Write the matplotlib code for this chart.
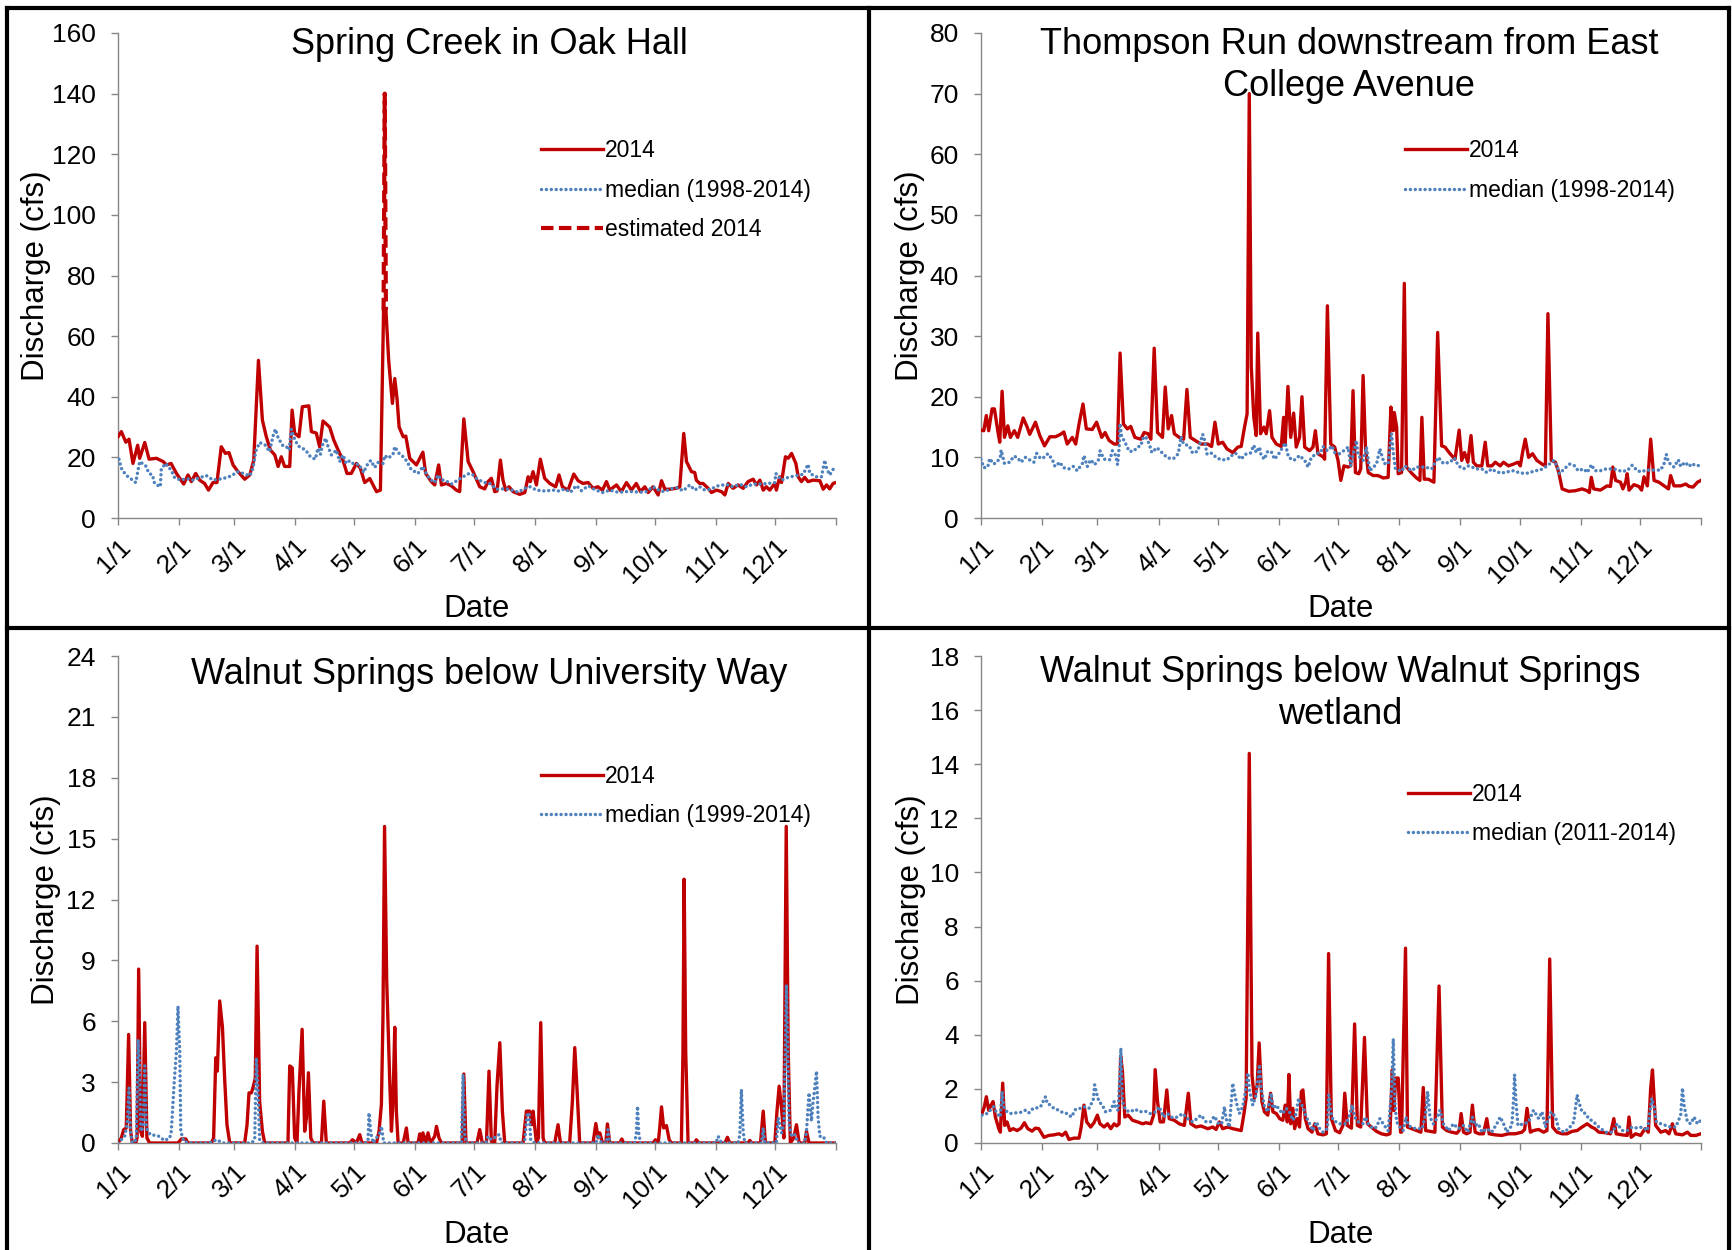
import numpy as np
import matplotlib
matplotlib.use("Agg")
import matplotlib.pyplot as plt
from matplotlib.lines import Line2D

plt.rcParams['font.family'] = ['Liberation Sans', 'DejaVu Sans']

# ---------------------------- DATA ----------------------------------------#
# day of year (0 = 1/1) and discharge in cfs

monthTicks = [0, 31, 59, 90, 120, 151, 181, 212, 243, 273, 304, 334, 365]
monthLabels = ['1/1', '2/1', '3/1', '4/1', '5/1', '6/1', '7/1', '8/1', '9/1', '10/1', '11/1', '12/1', '']

titles = ['Spring Creek in Oak Hall',
          'Thompson Run downstream from East\nCollege Avenue',
          'Walnut Springs below University Way',
          'Walnut Springs below Walnut Springs\nwetland']
medianLabels = ['median (1998-2014)', 'median (1998-2014)', 'median (1999-2014)', 'median (2011-2014)']
yMax = [160, 80, 24, 18]
yStep = [20, 10, 3, 2]

# Spring Creek in Oak Hall
springCreek2014 = [(0, 26.8), (1.7, 28.5), (4, 25), (5.6, 26), (7.6, 18), (10, 24), (11, 19.7), (13.6, 24.9),
    (15.8, 19.4), (19.5, 19.7), (23, 18.6), (24.6, 17.5), (27, 18), (29.7, 14.7), (33.4, 11.2), (35.6, 14.2),
    (37.3, 12), (39.5, 14.7), (41.5, 12.5), (44, 11.4), (46, 9.2), (48.3, 11.7), (50.3, 11.7), (52.5, 23.5),
    (54.6, 21.3), (56.4, 21.6), (58.5, 17.5), (61, 15.3), (64.4, 12.8), (67, 14.2), (69, 19), (71.4, 52),
    (73.4, 32.3), (75.4, 26.8), (77.5, 22.4), (79.7, 20.8), (81.4, 17), (83, 20.2), (84.7, 17), (87.3, 17),
    (88.5, 35.6), (89.8, 28), (92, 26.8), (93.7, 36.7), (97, 37), (98.3, 28.5), (100.8, 28), (102.5, 23.5),
    (104.2, 32), (107.6, 30), (109.7, 25.7), (111.9, 22.4), (114.4, 19), (116.4, 14.7), (118.6, 14.7),
    (121.2, 18), (123.2, 16.4), (125.4, 11.7), (128, 13), (131.4, 8.7), (133.4, 9.2), (135, 68.5),
    (136.2, 68.5), (137.6, 52), (139.5, 37.8), (140.7, 46), (141.9, 39), (142.9, 30), (145, 26.8),
    (146.3, 27), (148.3, 19.7), (151.7, 17.5), (155, 21.7), (156.4, 14.7), (159.3, 12), (161, 10.9),
    (163, 17.5), (164.4, 10.9), (167, 11.4), (169.5, 10.6), (172, 9.2), (173.7, 8.7), (175.8, 32.7),
    (178, 18.6), (180.5, 15.3), (183.9, 10.3), (186.4, 9.6), (188.1, 12), (189.8, 13.1), (191.5, 8.7),
    (192.7, 8.9), (194.4, 19.1), (195.7, 12.5), (197.1, 9.2), (198.8, 10.3), (200.8, 8.7), (204.2, 7.8),
    (206.8, 8.4), (208.5, 13.6), (209.6, 12), (211, 15.3), (212.7, 10.9), (214.7, 19.4), (216.9, 13.1),
    (219.5, 11.4), (222.5, 10.3), (224.2, 14.2), (225.9, 10.3), (228.8, 9.2), (231.7, 14.5), (233.9, 12.3),
    (236.4, 11.4), (239, 11.7), (241.5, 9.8), (244, 10.3), (246.3, 9.2), (248.3, 12), (250, 9.2),
    (253.4, 10.9), (255.9, 8.7), (258.5, 11.7), (261, 9.2), (263.5, 11.4), (265.6, 8.7), (267.8, 10.3),
    (269.5, 8.4), (272, 10.3), (274.6, 7.6), (276.3, 12.3), (278, 9.5), (280.5, 9.5), (283.9, 9.8),
    (285.6, 10.3), (287.6, 27.9), (289, 18.6), (291.5, 15.3), (293.2, 15), (294, 12.5), (295.7, 11.4),
    (297.4, 11.4), (300, 9.8), (301.7, 8.4), (304.2, 9.2), (306.8, 8.7), (308.5, 7.6), (310.2, 11.4),
    (312.7, 9.8), (315.2, 10.9), (317.8, 9.8), (320.3, 12), (322.9, 12.8), (324.6, 10.9), (326.3, 12.5),
    (328, 9.2), (329.6, 10.3), (331.3, 9.2), (333.9, 11.4), (334.7, 9.2), (336.4, 13.6), (337.3, 11.7),
    (339.3, 20.2), (340.7, 19.7), (342.4, 21.3), (344.6, 18), (345.8, 13.6), (347.4, 12), (349.1, 13.4),
    (350.8, 12), (353.4, 12.5), (356.8, 12.3), (358.5, 9.5), (360.2, 10.9), (361.8, 9.6), (363.5, 11.4),
    (365, 11.7)]
springCreekEstimated = [(135, 68.5), (135.6, 140), (136.2, 68.5)]
springCreekMedian = [(0.5, 19.4), (1.7, 16.4), (4, 14.2), (6.8, 12.8), (9, 11.7), (9.8, 14.4), (11, 18.6),
    (14, 17.3), (15.8, 14.7), (17.5, 14.2), (18.6, 11.4), (21.5, 10.3), (22, 16.2), (24.2, 18), (27, 15.8),
    (28.8, 13.3), (31.9, 12.5), (35, 13), (38, 12.5), (41.5, 13.3), (44.9, 14), (48.3, 12.5), (52.2, 12.9),
    (55, 13.3), (58, 14), (60.7, 15.3), (63.6, 14.7), (67, 13.9), (68.6, 16.4), (70, 22), (72, 24.9),
    (75, 24), (77, 21.9), (78.8, 27), (80, 29.3), (81.4, 26.5), (83.6, 24), (85.3, 23.8), (87, 22.4),
    (88.1, 29.3), (89.3, 26.8), (91.5, 23.8), (95.4, 22.4), (97.8, 20.2), (100.3, 19.4), (101.7, 23),
    (102.9, 21), (103.9, 24), (105.6, 26.3), (106.8, 23.5), (108.5, 20.8), (111, 22.4), (112.7, 18.6),
    (114.4, 20.8), (116, 18), (117.8, 18.9), (120, 17.7), (122.5, 17.7), (124.9, 15), (126.3, 17.2),
    (128.5, 19), (130.5, 16.7), (132.2, 18.3), (134.7, 18), (135.6, 20.6), (137.3, 19.7), (139.8, 21),
    (140.7, 23.5), (142.9, 21.3), (145, 20.2), (147, 18.6), (149, 16), (152.5, 14.7), (155, 17),
    (156.4, 15), (158.5, 12.8), (161, 11.7), (162.7, 14.2), (164.4, 12.5), (166, 12.5), (169.5, 11.2),
    (172, 12.2), (174.6, 13.3), (178.5, 14.7), (180.5, 14.2), (182.2, 13.1), (185.6, 11.8), (189, 11.4),
    (192.4, 9.5), (195.7, 9.6), (199.1, 9.5), (203.4, 8.5), (206.8, 9.8), (209.6, 10.3), (212.7, 9.2),
    (217, 8.9), (221.2, 9.2), (224.2, 8.9), (227.1, 9.6), (230, 8.5), (233, 10.7), (235.6, 9), (239, 10.6),
    (242.9, 9.2), (246.6, 8.4), (250, 9.2), (254.2, 8.5), (258.5, 8.7), (261.8, 8.7), (265.2, 8.5),
    (268.6, 8.7), (272, 10.3), (275.4, 9), (278, 8.7), (280.5, 9.6), (283.9, 10), (287.3, 9), (290.7, 10.9),
    (293.2, 9.2), (295.7, 10.3), (298.3, 9.2), (301.2, 9.5), (305, 10.6), (309.3, 11.1), (312.7, 10.3),
    (316.1, 11.1), (319.5, 10.3), (322.9, 11.2), (326.3, 11.2), (330.5, 11.4), (333.9, 11.7), (334.4, 14.7),
    (337.3, 12.5), (340.7, 13.4), (344, 13.9), (348.3, 14.4), (350.8, 17.7), (351.7, 14.7), (355, 13.6),
    (357.6, 13.6), (359.3, 19.1), (360.2, 16.4), (361.8, 14.2), (363.9, 16.4)]

# Thompson Run downstream from East College Avenue
thompson2014 = [(0, 14.5), (1.4, 14.4), (2.7, 16.9), (3.9, 14.4), (5.6, 18), (6.8, 18), (8.5, 14.4),
    (9.5, 12.5), (10.7, 20.9), (11.9, 13.3), (13.6, 15.2), (14.9, 13.3), (16.9, 14.4), (18.6, 13.3),
    (21.4, 16.5), (23.4, 15), (24.7, 13.8), (27.6, 15.8), (29.8, 13.6), (32.2, 11.9), (34.9, 13.4),
    (37.8, 13.4), (40.3, 13.8), (42, 14.2), (43.7, 12.2), (46.3, 13.3), (48, 12.2), (49.7, 15.5),
    (51.7, 18.8), (53.4, 14.7), (56.4, 14.6), (58.6, 15.8), (61.2, 13.3), (62.9, 14.1), (64.9, 12.8),
    (67.5, 12.2), (69.2, 12.2), (70.5, 27.2), (72.2, 15.5), (74.2, 14.7), (75.9, 15.1), (78, 13.3),
    (81, 13), (82.7, 14.1), (84.7, 13.9), (86.1, 13), (87.8, 28), (89.5, 14.1), (92, 13.3), (93.4, 21.6),
    (94.9, 14.7), (96.6, 16.9), (98, 13.9), (100.5, 13.3), (102.7, 13), (104.4, 21.2), (106.1, 13.3),
    (109, 12.7), (111.5, 12.2), (114.9, 12.2), (116.9, 11.8), (118.6, 15.8), (120.3, 12.2), (122.5, 12.5),
    (124.7, 11.4), (127.6, 10.8), (130.2, 11.7), (131.9, 11.8), (133.6, 15), (134.9, 17.2), (136, 70),
    (137, 25), (138.3, 16.6), (139.5, 13.6), (140.3, 30.5), (141.7, 13.9), (143.4, 15), (144.6, 13.9),
    (146.3, 17.7), (147.5, 13.3), (149.7, 12.2), (152.2, 11.8), (153.4, 16.6), (154.2, 12.2), (155.6, 21.7),
    (157, 13.3), (158.5, 17.3), (159.8, 11.7), (161.5, 13.3), (162.7, 20), (164.1, 11.7), (166.6, 11.1),
    (168.3, 11.7), (169.5, 14.4), (170.8, 10.6), (173.4, 10.1), (174.2, 9.7), (175.6, 35), (177.3, 12.2),
    (179.3, 11.7), (181, 9.5), (182.4, 6.2), (184, 8.6), (186.1, 8.4), (187.4, 8.6), (188.6, 21),
    (189.8, 7.5), (191.5, 7.3), (192.5, 8.1), (193.7, 23.5), (194.9, 11.7), (196.3, 7.5), (198.8, 7),
    (201.3, 7), (203.9, 6.6), (206.4, 6.7), (207.8, 18.3), (209, 14.4), (209.5, 17.4), (210.7, 15),
    (211.5, 7.3), (213.2, 7.5), (214.6, 38.7), (215.7, 8.4), (218.3, 7.4), (220.8, 6.6), (222.5, 6.2),
    (223.5, 16.6), (224.7, 6.4), (226.8, 6.4), (229.6, 5.9), (231.5, 30.6), (233.5, 11.9), (235.2, 11.7),
    (237.8, 10.6), (240.3, 9.7), (242.4, 14.5), (243.7, 9.5), (245.1, 10.8), (246.8, 9.2), (248.4, 13.6),
    (249.6, 9.2), (251.3, 8.6), (253.9, 8.6), (255.6, 12.5), (256.9, 8.6), (259, 8.6), (260.7, 9.2),
    (263.2, 8.6), (264.9, 9.2), (267.4, 8.6), (270, 8.9), (272.2, 9.2), (273.4, 8.6), (274.7, 11.1),
    (275.9, 13), (277.6, 10), (279.6, 10.6), (281.8, 9.5), (284.4, 8.9), (286.1, 8.6), (287.4, 33.7),
    (289.1, 9.5), (291.2, 9.2), (292.9, 7.5), (294.6, 4.8), (298, 4.4), (301.3, 4.5), (304.7, 4.8),
    (307.3, 4.5), (308.4, 4.2), (309.4, 6.7), (310.6, 4.8), (314, 4.6), (317.4, 5.3), (319.1, 5.2),
    (320.3, 8.4), (321.7, 6.2), (324.2, 5.9), (325.4, 4.8), (326.8, 5.9), (327.6, 7.3), (328.5, 4.6),
    (331, 5.5), (333.5, 5.2), (334.9, 4.6), (336.1, 6.8), (337.8, 5.3), (339.5, 13), (341.2, 6.2),
    (343.7, 5.9), (346.3, 5.3), (348.5, 4.8), (349.6, 7), (351.3, 5.3), (354.7, 5.3), (357.3, 5.6),
    (359, 5.2), (361, 5.1), (363.2, 5.9), (365, 6.2)]
thompsonMedian = [(0, 9.7), (1.4, 8.3), (3.4, 8.4), (4.4, 9.8), (6.4, 8.9), (8.1, 9.2), (9.8, 10.1),
    (10.2, 11.2), (11.9, 9), (14.6, 9.2), (16.6, 10.2), (18.3, 10), (20.3, 9.2), (22.5, 10), (25.1, 9.5),
    (26.8, 9.2), (28.1, 10.7), (30.2, 9.8), (31.9, 10), (33.9, 10.6), (36.1, 9.7), (37.5, 8.5), (40, 9.2),
    (41.7, 8.3), (44.6, 8.1), (46.8, 8.5), (48.8, 7.8), (51.4, 9), (52.2, 10.3), (53.9, 8.5), (55.6, 9.6),
    (57.6, 8.8), (59.8, 9.7), (60.3, 11.1), (62.4, 9.7), (65.4, 9.6), (66.6, 11.1), (68.3, 10.3),
    (69.2, 8.8), (70, 11.4), (70.5, 15.6), (71.2, 13.6), (73.4, 12.2), (75.1, 11), (77.3, 11), (79.3, 11.7),
    (81, 11.9), (82.4, 13.4), (83.6, 13.3), (85.3, 12.2), (86.6, 10.8), (89.2, 11.6), (92, 10.7),
    (94.6, 9.9), (97.6, 9.8), (100, 10.6), (101.4, 13.4), (102.7, 12.2), (105.6, 11.9), (107.3, 10.7),
    (109.8, 11), (112.4, 13.8), (113.2, 13), (114.6, 10.5), (116.9, 10.7), (119.2, 10), (121.7, 9.6),
    (124.7, 9.6), (127.1, 10.3), (129, 10.7), (131.9, 9.7), (133.9, 10.5), (136.6, 10.7), (138.3, 12),
    (139.5, 10.8), (141.2, 11.7), (142, 10.3), (143.7, 9.7), (145.1, 10.9), (147.1, 11), (148.8, 9.7),
    (151.4, 10.8), (153, 11.7), (154.2, 12.4), (155.9, 10), (158.6, 9.5), (161.5, 10.3), (164.1, 9.5),
    (165.8, 8.4), (167.5, 10), (170, 10.6), (172.2, 10.8), (173.4, 11.8), (175.6, 11.1), (178, 11.9),
    (179.3, 10.8), (181.8, 10.6), (183.5, 11), (186.1, 11.7), (187.4, 8.6), (188.6, 10.3), (190.3, 12.8),
    (191.2, 10.3), (193.7, 9.5), (195.4, 11.7), (197.1, 7.8), (200.5, 8.9), (202.2, 11.4), (204.4, 9),
    (206.4, 8.9), (207.3, 11.7), (208.1, 13.9), (209, 10.8), (210.1, 8.1), (213.2, 7.7), (214.9, 8.6),
    (218.3, 7.8), (220.8, 8.4), (225.1, 8.4), (228.5, 8.1), (231.8, 10), (234.4, 9), (237.8, 9.2),
    (240, 9.9), (242, 8.6), (244.6, 8.1), (247.1, 8.6), (251.3, 8.1), (253.9, 8.1), (256.4, 7.5),
    (259, 8.1), (260.7, 7.7), (263.7, 7.4), (266.6, 7.6), (270, 7.8), (273.4, 7.4), (277.3, 7.4),
    (281, 7.8), (283.5, 7.9), (286.1, 8.4), (287.8, 8.8), (290.3, 9.5), (292, 8.6), (293.2, 7.3),
    (296, 8.2), (298.5, 8.9), (301, 8.6), (302.7, 7.8), (305.6, 8.1), (307.3, 7.5), (309.5, 8.8),
    (311.2, 7.8), (314, 7.8), (316.9, 8.1), (320.8, 8.1), (324.7, 7.7), (327.6, 7.8), (330.1, 8.7),
    (332.7, 7.8), (334.9, 7.6), (336.9, 7.9), (339.5, 7.9), (342, 7.9), (344.6, 7.9), (346.3, 9),
    (347.4, 10.5), (348.5, 9.2), (351.3, 8.4), (353.5, 9.6), (354.7, 8.5), (356.9, 9.2), (359, 8.5),
    (360.3, 9), (362.4, 8.6), (364.9, 8.7)]

# Walnut Springs below University Way
university2014 = [(0, 0), (1.7, 0.25), (2.9, 0.66), (4.2, 0.74), (5.4, 5.35), (6.4, 0.58), (7.3, 0),
    (9, 0), (9.7, 0.25), (10.5, 8.57), (11.5, 0.58), (12.4, 0.33), (13.6, 5.93), (14.7, 0.25), (16.1, 0),
    (30.5, 0), (32.2, 0.2), (34.4, 0.2), (35.6, 0), (47.5, 0), (48.6, 0.25), (49.7, 4.2), (50.5, 3.54),
    (51.7, 7), (53.1, 5.7), (54.2, 3.2), (55.4, 0.9), (56.8, 0), (64.4, 0), (65.6, 0.9), (66.6, 2.47),
    (67.8, 2.47), (68.6, 2.72), (69.8, 3.2), (70.7, 9.7), (72, 2.06), (73.4, 0.58), (74.6, 0), (86.4, 0),
    (87.3, 3.8), (88.6, 3.7), (89.8, 0.25), (91, 0), (92, 2.55), (93.6, 5.6), (94.9, 0.58), (95.8, 1.24),
    (96.8, 3.46), (98, 0.25), (99.2, 0), (103.4, 0), (104.6, 2.06), (105.9, 0), (117.8, 0), (119.2, 0.16),
    (121.2, 0), (122.9, 0.41), (124, 0), (131.4, 0), (132.7, 0.58), (133.9, 1.9), (134.7, 6.2),
    (135.5, 15.6), (136.6, 8), (138.1, 3.2), (139, 0.58), (139.8, 2.06), (140.7, 5.7), (141.5, 1.57),
    (142.4, 0), (145, 0), (146.6, 0.74), (147.5, 0), (152.5, 0), (153.4, 0.45), (154.2, 0), (155, 0.5),
    (156.4, 0), (157.6, 0.5), (158.8, 0), (161, 0.33), (161.9, 0.82), (163.2, 0.25), (164.4, 0),
    (175, 0), (175.8, 3.4), (176.9, 0), (182.5, 0), (183.9, 0.66), (185.2, 0), (187.3, 0), (188.6, 3.54),
    (189.8, 0.08), (191.5, 0), (192.7, 2.88), (194.1, 4.94), (195.4, 1.57), (196.6, 0), (205.9, 0),
    (207.6, 1.57), (209.3, 1.57), (210.2, 0.9), (211, 1.57), (212.7, 0), (213.7, 0.25), (214.9, 5.93),
    (216.1, 0.25), (216.9, 0), (222, 0), (223.7, 0.9), (224.9, 0), (229.6, 0), (231, 2.06), (232.2, 4.7),
    (233.4, 2.55), (234.7, 0), (241.5, 0), (242.9, 0.96), (244.1, 0.25), (244.9, 0.5), (246.3, 0), (248, 0),
    (248.8, 0.94), (250, 0), (255.1, 0), (256.1, 0.2), (257.1, 0), (272, 0), (273.2, 0.16), (274.6, 0),
    (275.4, 0.74), (276.3, 1.78), (277.4, 0.74), (278.8, 0.86), (280.2, 0.16), (281.3, 0), (286.4, 0),
    (287.2, 4.5), (287.8, 13), (288.6, 4.5), (289.8, 0), (293.2, 0), (294, 0.16), (295.4, 0), (308.5, 0),
    (309.8, 0.28), (311, 0), (320.3, 0), (321.2, 0.13), (322, 0), (326.6, 0), (328, 1.57), (329.1, 0),
    (333.9, 0), (335, 1.57), (336.1, 2.8), (337.3, 1.73), (338.5, 0.25), (339.7, 15.6), (340.7, 4.5),
    (341.8, 0), (343.5, 0.25), (344.9, 0.9), (346.3, 0), (349.1, 0), (350, 0.58), (351.3, 0), (365, 0)]
universityMedian = [(0, 0), (1.7, 0.16), (3.4, 0.33), (4.6, 0.9), (5.1, 1.73), (5.6, 2.72), (6.3, 0.58),
    (7.3, 0), (9.3, 0.16), (10.2, 5.1), (11, 3.8), (11.5, 0.58), (12.7, 0.74), (13.6, 3.8), (14.4, 0.74),
    (16.4, 0.41), (20.3, 0.36), (23.7, 0.12), (26.3, 0.25), (27.1, 0.58), (28.5, 2.88), (29.7, 4.5),
    (30.5, 6.75), (31.4, 4.5), (31.9, 0.58), (33.4, 0.08), (36.4, 0), (46.6, 0), (50, 0.16), (53.4, 0),
    (67.8, 0), (69.5, 0.16), (70.3, 4.2), (71.2, 2.55), (72, 0.16), (73.7, 0), (126.3, 0), (127.1, 0.16),
    (127.6, 1.48), (128.5, 0.5), (129.7, 0), (133.1, 0.5), (133.9, 0.82), (135.1, 0), (143.2, 0),
    (174.6, 0), (175.4, 3.38), (176.3, 0.41), (177.1, 0), (187, 0), (188.1, 0.33), (189.8, 0.16),
    (193.7, 0.41), (194.9, 0), (205.5, 0), (206.8, 0.16), (208, 1.4), (209, 1.48), (209.8, 0.16),
    (211.8, 0), (243, 0), (244.1, 0.41), (245.7, 0), (248.3, 0), (249.1, 0.66), (250, 0), (262.7, 0),
    (263.5, 0.5), (264.1, 1.81), (264.7, 0.5), (265.6, 0), (304, 0), (305.1, 0.33), (306.8, 0), (315.2, 0),
    (316.1, 0.41), (316.9, 2.64), (317.8, 0.58), (318.6, 0), (327.1, 0), (328, 0.74), (328.8, 0),
    (334.7, 0), (335.6, 1.24), (337.3, 0.5), (338.5, 0.9), (339.8, 7.8), (341.2, 0.9), (342.4, 0.33),
    (344, 0.41), (345.8, 0), (349.1, 0), (350, 0.58), (350.8, 1.81), (351.3, 2.47), (352.5, 1.07),
    (353.4, 2.06), (354.2, 2.72), (355.1, 3.54), (355.9, 1.24), (356.8, 0.33), (358.5, 0.33), (360.2, 0),
    (365, 0)]

# Walnut Springs below Walnut Springs wetland
wetland2014 = [(0.5, 1.09), (1.7, 1.34), (2.7, 1.71), (3.9, 1.21), (5.1, 1.4), (6.1, 1.53), (7.3, 0.96),
    (9, 0.53), (9.8, 0.4), (11, 2.21), (12, 0.65), (13.2, 0.78), (14.6, 0.46), (16.3, 0.53), (18.3, 0.46),
    (20.3, 0.55), (22, 0.75), (23.7, 0.53), (25.9, 0.44), (27.6, 0.55), (29.3, 0.53), (31.9, 0.21),
    (34.4, 0.28), (36.9, 0.3), (39.5, 0.34), (41.2, 0.28), (42.9, 0.4), (44.6, 0.13), (47.1, 0.18),
    (49.7, 0.18), (50.8, 0.59), (52.2, 1.4), (53.6, 0.78), (55.6, 0.59), (57.3, 0.75), (59, 1.03),
    (60.3, 0.71), (62.4, 0.59), (64.1, 0.71), (65.8, 0.53), (67.5, 0.71), (68.8, 0.63), (70, 0.71),
    (70.8, 3.21), (71.7, 2.65), (72.9, 0.96), (74.6, 1.03), (76.8, 0.84), (79.3, 0.78), (81.9, 0.71),
    (83.6, 0.75), (86.1, 0.71), (87.5, 1.03), (88.3, 2.71), (89.5, 1.53), (90.8, 0.78), (92.5, 0.78),
    (94.2, 1.96), (95.4, 0.9), (98, 0.84), (100.5, 0.71), (103.1, 0.65), (105.1, 1.84), (106.4, 0.71),
    (109, 0.59), (111.5, 0.63), (114.9, 0.53), (117.5, 0.59), (119.2, 0.5), (120.8, 0.78), (122.5, 0.53),
    (125.1, 0.59), (127.6, 0.53), (130.2, 0.49), (131.9, 0.46), (133.2, 1.03), (134.4, 1.65), (136, 14.4),
    (137.4, 2.5), (138.6, 1.65), (140, 2.15), (141, 3.7), (142.4, 1.53), (143.7, 1.15), (145.4, 1.03),
    (146.8, 1.84), (148, 1.15), (149.7, 1.09), (151.4, 0.9), (153, 0.84), (154.2, 1.4), (155.3, 0.78),
    (156.1, 2.53), (157, 0.71), (158.1, 1.28), (159, 0.53), (160.3, 0.9), (161.5, 0.59), (162.4, 1.9),
    (163.2, 1.96), (164.4, 0.9), (165.8, 0.53), (167.8, 0.4), (169.2, 0.71), (170.8, 0.34), (173.4, 0.3),
    (175.1, 0.34), (176.2, 7.0), (177.6, 0.9), (179.7, 0.46), (181.8, 0.38), (183.5, 0.65), (184.4, 1.84),
    (185.7, 0.65), (187.8, 0.55), (189.4, 4.4), (190.8, 0.65), (192.5, 0.59), (194.4, 3.9), (195.9, 0.71),
    (197.9, 0.59), (200.5, 0.43), (203, 0.34), (205.6, 0.3), (207.3, 0.34), (208.5, 2.7), (209.3, 1.2),
    (210.2, 2.4), (211.5, 2.4), (212.7, 0.4), (213.2, 0.4), (215.2, 7.2), (216.2, 0.59), (218.3, 0.53),
    (220.8, 0.46), (223, 0.4), (224.2, 2.05), (225.4, 0.46), (227.6, 0.43), (230.1, 0.4), (232.2, 5.8),
    (233.9, 0.59), (236.1, 0.46), (238.6, 0.4), (241.2, 0.36), (242.4, 0.46), (243.4, 1.09), (244.6, 0.4),
    (246.2, 0.34), (247.9, 0.4), (249.1, 1.4), (250.5, 0.4), (252.5, 0.34), (254.7, 0.34), (256.4, 0.9),
    (257.6, 0.34), (260.7, 0.3), (264, 0.28), (267.4, 0.34), (270.8, 0.34), (274.2, 0.4), (275.6, 0.5),
    (276.8, 1.28), (278.5, 0.4), (280.1, 0.46), (282.7, 0.5), (285.2, 0.4), (286.9, 0.46), (288.3, 6.8),
    (289.8, 0.59), (292, 0.4), (294.6, 0.34), (297.1, 0.34), (299.6, 0.43), (302.2, 0.46), (304.7, 0.59),
    (307.3, 0.71), (309.5, 0.59), (311.2, 0.53), (313.2, 0.4), (316.6, 0.38), (319.1, 0.34), (320.8, 0.9),
    (322, 0.34), (325.1, 0.3), (327.6, 0.28), (328.5, 0.96), (329.6, 0.21), (331.8, 0.34), (334.4, 0.28),
    (336.6, 0.53), (338.3, 0.4), (339.5, 2.03), (340.4, 2.7), (342, 0.65), (344.6, 0.4), (347.1, 0.46),
    (348.8, 0.34), (350.5, 0.71), (352.2, 0.34), (355.6, 0.3), (358.1, 0.4), (359.8, 0.28), (362.4, 0.28),
    (364.9, 0.34)]
wetlandMedian = [(0.5, 1.03), (3.1, 1.09), (4.7, 1.21), (6.4, 1.34), (8.1, 1.09), (9.8, 0.96), (10.7, 1.9),
    (11.5, 1.34), (13.2, 1.15), (14.9, 1.09), (16.9, 1.11), (20, 1.13), (22.5, 1.21), (24.2, 1.11),
    (26.4, 1.28), (28.5, 1.3), (30.2, 1.34), (32.7, 1.71), (33.6, 1.46), (35.3, 1.4), (36.9, 1.28),
    (39.5, 1.21), (41.7, 1.11), (43.7, 1.09), (45.8, 0.96), (48, 1.25), (50.2, 1.28), (52.2, 1.34),
    (54.7, 1.28), (56.9, 1.59), (57.6, 2.15), (58.6, 1.84), (59.8, 1.53), (61.5, 1.4), (63.2, 1.15),
    (65.8, 1.21), (67.5, 1.53), (68.3, 1.28), (69.5, 1.21), (70.5, 2.65), (70.9, 3.5), (71.7, 1.53),
    (73.4, 1.21), (75.6, 1.15), (78.1, 1.25), (80.5, 1.15), (83.1, 1.18), (85.8, 1.09), (88.6, 1.15),
    (90.3, 1.34), (92.5, 0.96), (94.6, 1.09), (97.1, 0.93), (99.7, 0.96), (102.2, 1.09), (104.7, 0.9),
    (107.3, 0.78), (109.5, 0.9), (111.5, 1.03), (114.1, 0.78), (116.3, 0.78), (118.3, 0.99), (120.5, 0.71),
    (122, 0.71), (123.4, 1.34), (124.2, 0.9), (125.9, 0.59), (127.6, 2.21), (128.5, 1.84), (129.8, 1.4),
    (131, 1.09), (132.7, 1.34), (133.9, 1.84), (135.3, 2.59), (136.1, 1.96), (137.8, 1.4), (139.5, 1.78),
    (141.2, 2.9), (142, 2.03), (143.7, 1.34), (145.4, 1.15), (147.1, 1.84), (148, 1.28), (149.7, 1.4),
    (151.4, 1.21), (153, 1.09), (154.7, 1.28), (156.4, 1.15), (158.1, 0.84), (159.8, 1.09), (161, 1.65),
    (162, 1.46), (163.2, 1.34), (164.9, 0.96), (166.6, 0.71), (168.3, 0.46), (170, 0.78), (171.7, 0.53),
    (173.4, 0.4), (175.6, 0.53), (176.3, 1.78), (177.3, 1.15), (178.5, 0.84), (181.8, 0.71), (185.2, 0.71),
    (186.9, 1.03), (188.1, 1.4), (189.5, 0.96), (191.2, 0.78), (193.7, 0.71), (194.9, 0.96), (196.3, 0.71),
    (198.8, 0.53), (200.5, 0.59), (202.2, 0.9), (204.4, 0.65), (206.4, 0.46), (208.1, 1.9), (209, 3.85),
    (209.8, 1.53), (210.7, 0.78), (212.4, 0.59), (214, 0.46), (215.4, 0.96), (216.6, 0.65), (219.1, 0.55),
    (221.7, 0.53), (223.7, 0.53), (225.4, 1.09), (226.4, 1.9), (227.6, 0.96), (229.3, 0.71), (231, 0.9),
    (232.7, 1.21), (234.4, 0.71), (237, 0.46), (239.5, 0.71), (242, 0.53), (244.6, 0.65), (246.8, 0.4),
    (249.1, 0.96), (250.5, 0.65), (252.2, 0.71), (253.9, 0.4), (256.4, 0.53), (258.9, 0.4), (261.5, 0.71),
    (263.2, 0.96), (264.9, 0.71), (266.6, 0.4), (269.1, 0.65), (270, 1.65), (270.5, 2.53), (271.2, 1.53),
    (272.2, 0.65), (275.1, 0.71), (277.6, 0.78), (280.1, 1.21), (282.7, 0.9), (284.4, 1.15), (286.1, 0.59),
    (287.8, 0.9), (289.1, 1.15), (291.2, 0.96), (292.9, 0.53), (295.4, 0.4), (298, 0.53), (300.5, 0.78),
    (302.2, 1.78), (303, 1.53), (304.7, 1.15), (306.4, 1.09), (308.1, 0.9), (310.6, 0.78), (313.2, 0.59),
    (316.6, 0.4), (320, 0.4), (322.5, 0.71), (325.1, 0.46), (327.6, 0.46), (330.1, 0.59), (332.7, 0.55),
    (335.2, 0.59), (337.8, 0.46), (340, 1.65), (341.2, 1.34), (342.4, 0.78), (344.6, 0.71), (347.1, 0.65),
    (349.6, 0.59), (352.2, 0.59), (354.7, 1.03), (355.6, 2.03), (356.4, 1.4), (358.1, 0.78), (359.8, 0.71),
    (361.5, 0.96), (363.2, 0.71), (364.9, 0.84)]

# ---------------------------- PLOT ----------------------------------------#
RED = '#C00000'
BLUE = '#4F81BD'
GREY = '#868686'
W, H = 1732, 1250

# plot areas in pixels: left, top, right, bottom
axBoxes = [(118, 33, 836, 518), (981, 33, 1701, 518), (118, 656, 836, 1143), (981, 656, 1701, 1143)]
titlePos = [(489, 44.5), (1349, 65.5), (489, 674.5), (1340, 693.5)]
legendPos = [(0.589, 0.781), (0.589, 0.781), (0.589, 0.777), (0.593, 0.740)]
ylabelX = [-0.094, -0.078, -0.080, -0.077]
xlabelY = [-0.157, -0.157, -0.158, -0.158]


def unzip(pairs):
    return [p[0] for p in pairs], [p[1] for p in pairs]


def drawPanel(fig, i, series2014, seriesMedian, estimated=None):
    l, t, r, b = axBoxes[i]
    ax = fig.add_axes([l / W, 1 - b / H, (r - l) / W, (b - t) / H])
    x, y = unzip(series2014)
    ax.plot(x, y, color=RED, lw=2.4, solid_joinstyle='round', zorder=3)
    handles = [Line2D([], [], color=RED, lw=2.4)]
    labels = ['2014', medianLabels[i]]
    if estimated is not None:
        ex, ey = unzip(estimated)
        ax.plot(ex, ey, color=RED, lw=3.0, linestyle=(0, (3, 1.3)), zorder=3)
    mx, my = unzip(seriesMedian)
    dotted = (0, (0.01, 1.4))
    ax.plot(mx, my, color=BLUE, lw=2.5, linestyle=dotted, dash_capstyle='round', zorder=4)
    handles.append(Line2D([], [], color=BLUE, lw=2.5, linestyle=dotted, dash_capstyle='round'))
    if estimated is not None:
        handles.append(Line2D([], [], color=RED, lw=3.0, linestyle=(0, (3, 1.3))))
        labels.append('estimated 2014')

    ax.set_xlim(0, 365)
    ax.set_ylim(0, yMax[i])
    ax.set_xticks(monthTicks)
    ax.set_xticklabels(monthLabels, rotation=45, ha='right', va='top', rotation_mode='anchor', fontsize=19)
    ax.set_yticks(np.arange(0, yMax[i] + 1, yStep[i]))
    ax.tick_params(axis='y', labelsize=19, pad=11, length=5, width=1, color=GREY)
    ax.tick_params(axis='x', pad=7, length=5, width=1, color=GREY)
    for s in ['top', 'right']:
        ax.spines[s].set_visible(False)
    for s in ['left', 'bottom']:
        ax.spines[s].set_color(GREY)
        ax.spines[s].set_linewidth(1)
    ax.set_ylabel('Discharge (cfs)', fontsize=22.5)
    ax.yaxis.set_label_coords(ylabelX[i], 0.5)
    ax.set_xlabel('Date', fontsize=22.5)
    ax.xaxis.set_label_coords(0.5, xlabelY[i])
    ax.legend(handles, labels, loc='upper left', bbox_to_anchor=legendPos[i], frameon=False, fontsize=16.5,
              handlelength=2.7, handletextpad=0.1, labelspacing=0.72, borderpad=0, borderaxespad=0)
    fig.text(titlePos[i][0] / W, 1 - titlePos[i][1] / H, titles[i], fontsize=26, ha='center', va='center',
             linespacing=1.29)
    return ax


fig = plt.figure(figsize=(W / 100, H / 100), dpi=100)
drawPanel(fig, 0, springCreek2014, springCreekMedian, springCreekEstimated)
drawPanel(fig, 1, thompson2014, thompsonMedian)
drawPanel(fig, 2, university2014, universityMedian)
drawPanel(fig, 3, wetland2014, wetlandMedian)

# black frames around the four charts
for (x0, y0, x1, y1) in [(7, 8, 7, 1250), (7, 8, 1729, 8), (1729, 8, 1729, 1250), (869, 8, 869, 1250),
                         (7, 628, 1729, 628)]:
    fig.add_artist(Line2D([x0 / W, x1 / W], [1 - y0 / H, 1 - y1 / H], color='black', lw=3,
                          transform=fig.transFigure))

plt.savefig('out.png', dpi=100)
